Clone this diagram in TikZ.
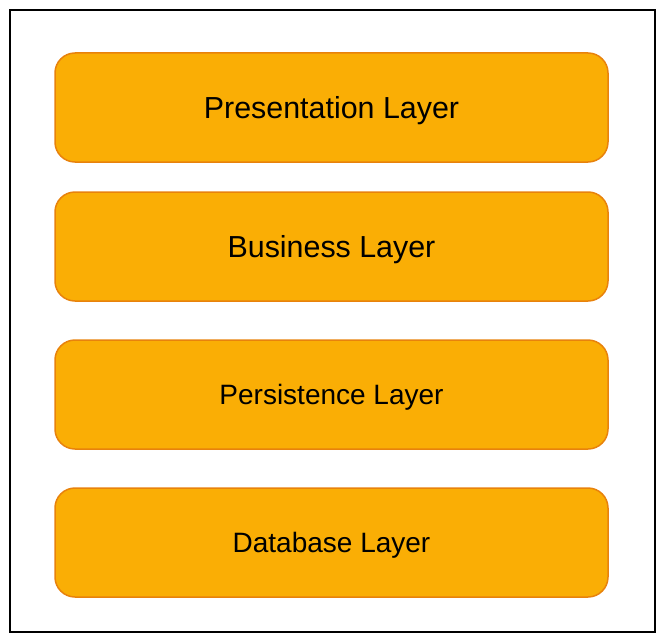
\documentclass[tikz,border=0pt]{standalone}
\usepackage{fontspec}
\setmainfont{Liberation Sans}
\usepackage{tikz}
\usetikzlibrary{positioning}

\definecolor{layerfill}{HTML}{FAAE05}
\definecolor{layerline}{HTML}{E8820C}

\begin{document}
\begin{tikzpicture}[x=1pt, y=1pt,
    layer/.style={draw=layerline, fill=layerfill, line width=1.5pt,
        rounded corners=20pt, minimum width=553pt, minimum height=109pt,
        inner sep=0pt, outer sep=0pt, text depth=0pt},
    bigtext/.style={font=\fontsize{30.4}{36}\selectfont},
    smalltext/.style={font=\fontsize{28}{34}\selectfont}]
    \useasboundingbox (0,0) rectangle (663,-642);

    % Outer frame
    \draw[line width=2pt] (10,-10) rectangle (655,-632);

    % Layers, top to bottom
    \node[layer, bigtext] (present) at (331.5,-107.5) {Presentation Layer};
    \node[layer, bigtext, below=30pt of present] (business) {Business Layer};
    \node[layer, smalltext, below=39pt of business] (persist) {Persistence Layer};
    \node[layer, smalltext, below=39pt of persist] (database) {Database Layer};
\end{tikzpicture}
\end{document}
